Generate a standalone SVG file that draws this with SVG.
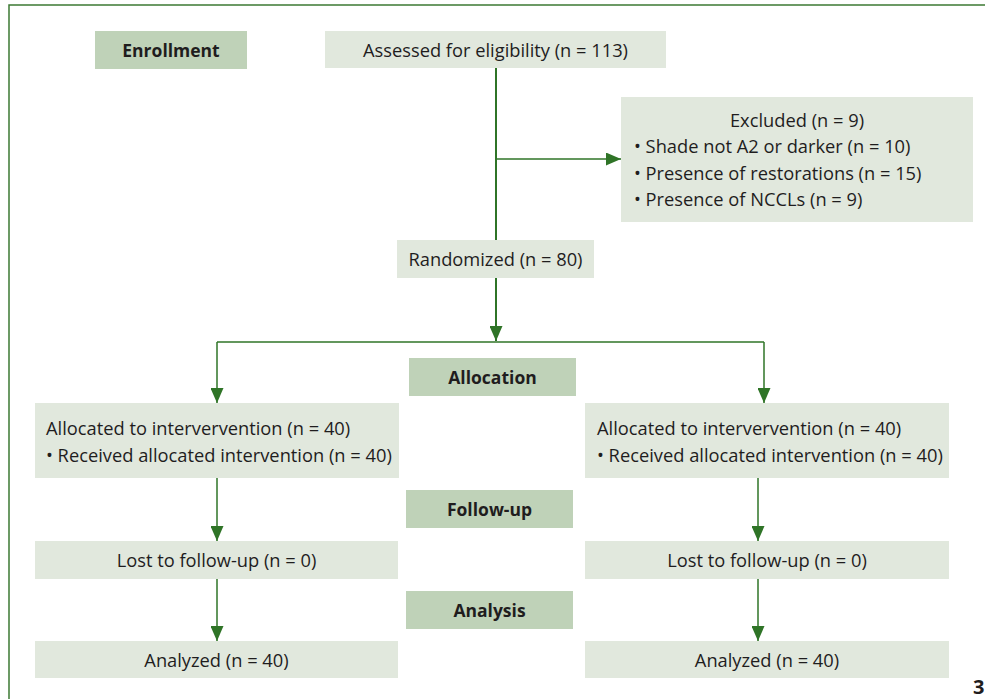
<svg xmlns="http://www.w3.org/2000/svg" width="985" height="699" viewBox="0 0 985 699">
  <defs>
    <marker id="arr" markerUnits="userSpaceOnUse" markerWidth="15" markerHeight="13" refX="15" refY="6.5" orient="auto" viewBox="0 0 15 13">
      <path d="M0,0 L15,6.5 L0,13 z" fill="#2f7427"/>
    </marker>
    <style>
      .box { fill: #e1e8dd; }
      .hdr { fill: #bfd2b8; }
      .t { font-family: "Open Sans", "Liberation Sans", sans-serif; font-size: 18.3px; fill: #1f1d1e; }
      .b { font-family: "Open Sans", "Liberation Sans", sans-serif; font-size: 17.5px; font-weight: bold; fill: #1f1d1e; }
      .c { text-anchor: middle; }
      .ln { fill: none; stroke: #2f7427; stroke-width: 1.5; }
      .thick { stroke-width: 2; }
      .frame { fill: none; stroke: #3d7a33; stroke-width: 1.5; }
    </style>
  </defs>
  <rect width="985" height="699" fill="#ffffff"/>
  <path class="frame" d="M9,699 V5 H985"/>

  <g id="connectors">
    <path class="ln thick" d="M496,68 V240"/>
    <path class="ln" d="M496,159 H621" marker-end="url(#arr)"/>
    <path class="ln thick" d="M496,278 V341" marker-end="url(#arr)"/>
    <path class="ln" d="M217,342 H764"/>
    <path class="ln" d="M217,342 V403" marker-end="url(#arr)"/>
    <path class="ln" d="M764,342 V403" marker-end="url(#arr)"/>
    <path class="ln" d="M217,478 V541" marker-end="url(#arr)"/>
    <path class="ln" d="M217,579 V641" marker-end="url(#arr)"/>
    <path class="ln" d="M758,478 V541" marker-end="url(#arr)"/>
    <path class="ln" d="M758,579 V641" marker-end="url(#arr)"/>
  </g>

  <g id="enrollment">
    <rect class="hdr" x="95" y="31" width="152" height="38"/>
    <text class="b c" x="171" y="56.5">Enrollment</text>
  </g>
  <g id="assessed">
    <rect class="box" x="325" y="31" width="341" height="37"/>
    <text class="t c" x="495.5" y="56.5">Assessed for eligibility (n = 113)</text>
  </g>
  <g id="excluded">
    <rect class="box" x="621" y="97" width="352" height="125"/>
    <text class="t c" x="797" y="127">Excluded (n = 9)</text>
    <text class="t" x="634" y="153">• Shade not A2 or darker (n = 10)</text>
    <text class="t" x="634" y="180">• Presence of restorations (n = 15)</text>
    <text class="t" x="634" y="206">• Presence of NCCLs (n = 9)</text>
  </g>
  <g id="randomized">
    <rect class="box" x="397" y="240" width="197" height="38"/>
    <text class="t c" x="495.5" y="266">Randomized (n = 80)</text>
  </g>
  <g id="allocation">
    <rect class="hdr" x="409" y="358" width="167" height="38"/>
    <text class="b c" x="492.5" y="383.5">Allocation</text>
  </g>
  <g id="alloc-left">
    <rect class="box" x="35" y="403" width="364" height="75"/>
    <text class="t" x="46" y="435">Allocated to intervervention (n = 40)</text>
    <text class="t" x="46" y="462">• Received allocated intervention (n = 40)</text>
  </g>
  <g id="alloc-right">
    <rect class="box" x="585" y="403" width="364" height="75"/>
    <text class="t" x="597" y="435">Allocated to intervervention (n = 40)</text>
    <text class="t" x="597" y="462">• Received allocated intervention (n = 40)</text>
  </g>
  <g id="followup">
    <rect class="hdr" x="406" y="490" width="167" height="38"/>
    <text class="b c" x="489.5" y="515.5">Follow-up</text>
  </g>
  <g id="lost-left">
    <rect class="box" x="35" y="541" width="363" height="38"/>
    <text class="t c" x="216.5" y="566.5">Lost to follow-up (n = 0)</text>
  </g>
  <g id="lost-right">
    <rect class="box" x="585" y="541" width="364" height="38"/>
    <text class="t c" x="767" y="566.5">Lost to follow-up (n = 0)</text>
  </g>
  <g id="analysis">
    <rect class="hdr" x="406" y="591" width="167" height="38"/>
    <text class="b c" x="489.5" y="616.5">Analysis</text>
  </g>
  <g id="analyzed-left">
    <rect class="box" x="35" y="641" width="363" height="37"/>
    <text class="t c" x="216.5" y="666.5">Analyzed (n = 40)</text>
  </g>
  <g id="analyzed-right">
    <rect class="box" x="585" y="641" width="364" height="37"/>
    <text class="t c" x="767" y="666.5">Analyzed (n = 40)</text>
  </g>
  <text class="b" x="973" y="694" style="font-size:20px">3</text>
</svg>
